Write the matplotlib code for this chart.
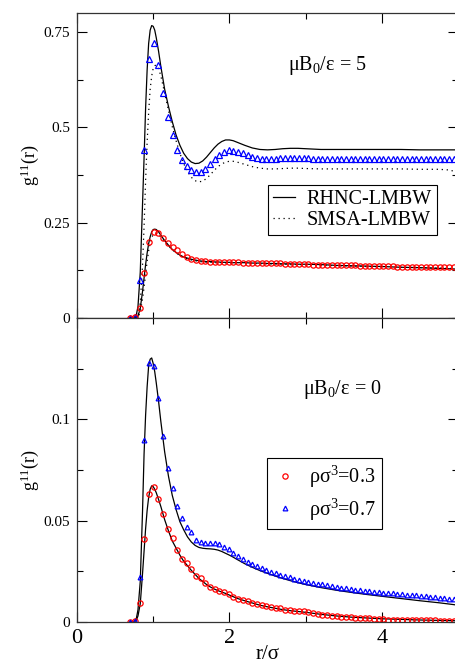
import numpy as np
import matplotlib
matplotlib.use('Agg')
import matplotlib.pyplot as plt
from matplotlib.ticker import MultipleLocator, FixedLocator, FuncFormatter

plt.rcParams['font.family'] = 'Liberation Serif'
plt.rcParams['mathtext.fontset'] = 'custom'
plt.rcParams['mathtext.rm'] = 'Liberation Serif'
plt.rcParams['mathtext.it'] = 'Liberation Serif'

# simulation points (same r grid for every MD series)
r_md = np.round(0.70 + 0.0615 * np.arange(70), 4)

# mu B0 / eps = 5
md7_b5 = [0.0, 0.003, 0.10, 0.44, 0.68, 0.72, 0.664, 0.589, 0.527, 0.479,
          0.441, 0.415, 0.398, 0.387, 0.382, 0.383, 0.392, 0.404, 0.417, 0.428,
          0.435, 0.440, 0.438, 0.436, 0.432, 0.427, 0.423, 0.420, 0.418, 0.417,
          0.417, 0.418, 0.419, 0.420, 0.420, 0.420, 0.420, 0.419, 0.419, 0.418,
          0.418, 0.418, 0.418, 0.418, 0.418, 0.418, 0.418, 0.418, 0.418, 0.418,
          0.418, 0.418, 0.417, 0.417, 0.417, 0.417, 0.417, 0.417, 0.417, 0.417,
          0.417, 0.417, 0.416, 0.416, 0.416, 0.416, 0.416, 0.416, 0.416, 0.416]
md3_b5 = [0.0, 0.002, 0.025, 0.119, 0.199, 0.225, 0.223, 0.209, 0.196, 0.186,
          0.177, 0.168, 0.161, 0.156, 0.153, 0.150, 0.149, 0.148, 0.148, 0.147,
          0.147, 0.146, 0.146, 0.146, 0.145, 0.145, 0.145, 0.144, 0.144, 0.144,
          0.143, 0.143, 0.143, 0.142, 0.142, 0.142, 0.141, 0.141, 0.141, 0.140,
          0.140, 0.140, 0.140, 0.139, 0.139, 0.139, 0.138, 0.138, 0.138, 0.137,
          0.137, 0.137, 0.137, 0.136, 0.136, 0.136, 0.136, 0.135, 0.135, 0.135,
          0.135, 0.135, 0.134, 0.134, 0.134, 0.134, 0.134, 0.134, 0.133, 0.133]

# mu B0 / eps = 0
md7_b0 = [0.0, 0.0005, 0.022, 0.0897, 0.128, 0.1265, 0.1107, 0.092, 0.076, 0.0663,
          0.0573, 0.0514, 0.047, 0.0442, 0.0404, 0.0393, 0.0388, 0.0388, 0.0388, 0.0383,
          0.0371, 0.0358, 0.0343, 0.0325, 0.0310, 0.0298, 0.0287, 0.0277, 0.0266, 0.0257,
          0.0248, 0.0240, 0.0232, 0.0225, 0.0220, 0.0214, 0.0209, 0.0203, 0.0198, 0.0194,
          0.0190, 0.0186, 0.0182, 0.0178, 0.0174, 0.0170, 0.0166, 0.0163, 0.0160, 0.0157,
          0.0154, 0.0151, 0.0149, 0.0147, 0.0145, 0.0143, 0.0141, 0.0139, 0.0137, 0.0135,
          0.0133, 0.0131, 0.0129, 0.0127, 0.0125, 0.0122, 0.0120, 0.0118, 0.0116, 0.0114]
md3_b0 = [0.0, 0.0003, 0.0092, 0.0412, 0.063, 0.0665, 0.0606, 0.0535, 0.0457, 0.0417,
          0.0355, 0.0311, 0.0289, 0.026, 0.0227, 0.0215, 0.0193, 0.0175, 0.0161, 0.0154,
          0.0149, 0.0136, 0.0125, 0.0115, 0.0108, 0.0103, 0.0096, 0.0088, 0.0083, 0.0079,
          0.0074, 0.0070, 0.0067, 0.0061, 0.0058, 0.0056, 0.0054, 0.0052, 0.0049, 0.0046,
          0.0040, 0.0035, 0.0034, 0.0032, 0.0029, 0.0027, 0.0024, 0.0023, 0.0021, 0.0020,
          0.0018, 0.0018, 0.0016, 0.0015, 0.0013, 0.0012, 0.0012, 0.0011, 0.0011, 0.0010,
          0.0010, 0.0009, 0.0009, 0.0008, 0.0008, 0.0008, 0.0007, 0.0007, 0.0007, 0.0006]

# integral equation results
r_th = [0.70, 0.75, 0.78, 0.80, 0.83, 0.86, 0.88, 0.90, 0.92, 0.94,
        0.96, 0.98, 1.00, 1.02, 1.04, 1.07, 1.10, 1.15, 1.20, 1.25,
        1.30, 1.35, 1.40, 1.45, 1.50, 1.55, 1.60, 1.65, 1.70, 1.75,
        1.80, 1.85, 1.90, 1.95, 2.00, 2.05, 2.10, 2.20, 2.30, 2.40,
        2.50, 2.60, 2.70, 2.80, 2.90, 3.00, 3.20, 3.40, 3.60, 3.80,
        4.00, 4.25, 4.50, 4.75, 4.90, 5.00]

rhnc7_b5 = [0.0, 0.0, 0.01, 0.03, 0.12, 0.30, 0.42, 0.55, 0.65, 0.72,
            0.755, 0.767, 0.765, 0.755, 0.735, 0.70, 0.66, 0.60, 0.555, 0.515,
            0.48, 0.453, 0.432, 0.418, 0.409, 0.405, 0.406, 0.412, 0.422, 0.434,
            0.446, 0.456, 0.463, 0.467, 0.467, 0.465, 0.461, 0.453, 0.446, 0.442,
            0.441, 0.442, 0.444, 0.445, 0.445, 0.444, 0.442, 0.442, 0.442, 0.442,
            0.442, 0.442, 0.441, 0.441, 0.441, 0.441]
smsa7_b5 = [0.0, 0.0, 0.0, 0.005, 0.04, 0.14, 0.24, 0.36, 0.46, 0.54,
            0.60, 0.635, 0.655, 0.662, 0.663, 0.655, 0.635, 0.59, 0.545, 0.502,
            0.465, 0.432, 0.405, 0.384, 0.369, 0.360, 0.357, 0.359, 0.366, 0.376,
            0.387, 0.397, 0.404, 0.409, 0.411, 0.411, 0.409, 0.403, 0.397, 0.393,
            0.391, 0.391, 0.392, 0.393, 0.393, 0.392, 0.391, 0.391, 0.391, 0.391,
            0.391, 0.391, 0.390, 0.390, 0.388, 0.380]
rhnc3_b5 = [0.0, 0.0, 0.0, 0.005, 0.025, 0.07, 0.105, 0.14, 0.17, 0.195,
            0.213, 0.226, 0.232, 0.233, 0.232, 0.226, 0.217, 0.203, 0.191, 0.180,
            0.172, 0.165, 0.160, 0.157, 0.154, 0.152, 0.150, 0.149, 0.148, 0.148,
            0.147, 0.147, 0.146, 0.146, 0.146, 0.145, 0.145, 0.145, 0.144, 0.144,
            0.143, 0.143, 0.142, 0.142, 0.141, 0.141, 0.140, 0.138, 0.137, 0.136,
            0.135, 0.133, 0.132, 0.130, 0.129, 0.128]
smsa3_b5 = [0.0, 0.0, 0.0, 0.002, 0.015, 0.05, 0.08, 0.115, 0.148, 0.176,
            0.197, 0.211, 0.219, 0.222, 0.222, 0.219, 0.212, 0.200, 0.189, 0.179,
            0.171, 0.164, 0.159, 0.155, 0.152, 0.150, 0.148, 0.147, 0.146, 0.146,
            0.145, 0.145, 0.145, 0.144, 0.144, 0.144, 0.144, 0.143, 0.143, 0.142,
            0.142, 0.141, 0.141, 0.140, 0.140, 0.139, 0.138, 0.137, 0.136, 0.135,
            0.134, 0.133, 0.132, 0.131, 0.130, 0.130]
rhnc7_b0 = [0.0, 0.0, 0.002, 0.006, 0.020, 0.055, 0.083, 0.102, 0.116, 0.1265,
            0.1297, 0.1303, 0.1275, 0.1235, 0.118, 0.109, 0.099, 0.084, 0.072, 0.0625,
            0.0555, 0.0495, 0.0455, 0.042, 0.0395, 0.0378, 0.0368, 0.0364, 0.0362, 0.0361,
            0.0359, 0.0355, 0.0348, 0.0339, 0.0330, 0.0320, 0.0309, 0.0288, 0.0270, 0.0254,
            0.0240, 0.0227, 0.0215, 0.0204, 0.0194, 0.0185, 0.0170, 0.0157, 0.0146, 0.0136,
            0.0127, 0.0116, 0.0105, 0.0095, 0.0088, 0.0083]
rhnc3_b0 = [0.0, 0.0, 0.001, 0.003, 0.009, 0.024, 0.035, 0.046, 0.055, 0.0615,
            0.0655, 0.0672, 0.0668, 0.0655, 0.0638, 0.0605, 0.057, 0.0505, 0.045, 0.040,
            0.0365, 0.033, 0.030, 0.0278, 0.0255, 0.0235, 0.0215, 0.0200, 0.0185, 0.0173,
            0.0163, 0.0155, 0.0148, 0.0141, 0.0133, 0.0125, 0.0117, 0.0105, 0.0094, 0.0083,
            0.0075, 0.0068, 0.0061, 0.0056, 0.0052, 0.0048, 0.0038, 0.0030, 0.0024, 0.0020,
            0.0016, 0.0013, 0.0010, 0.0008, 0.0007, 0.0006]

yticks_top = [0, 0.25, 0.5, 0.75]
yticks_bot = [0, 0.05, 0.1]

fig = plt.figure(figsize=(4.56, 6.63), dpi=100)
ax1 = fig.add_axes([0.1689, 0.5204, 0.8355, 0.4600])
ax2 = fig.add_axes([0.1689, 0.0618, 0.8355, 0.4585])

dots = (0, (1, 3))
mk = dict(linestyle='none', markerfacecolor='none', markeredgewidth=0.9)

# upper panel: field on
ax1.plot(r_th, rhnc7_b5, color='black', lw=0.9, label='RHNC-LMBW')
ax1.plot(r_th, smsa7_b5, color='black', lw=0.9, ls=dots, label='SMSA-LMBW')
ax1.plot(r_th, rhnc3_b5, color='black', lw=0.9)
ax1.plot(r_th, smsa3_b5, color='black', lw=0.9, ls=dots)
ax1.plot(r_md, md7_b5, marker='^', markersize=4, markeredgecolor='blue', **mk)
ax1.plot(r_md, md3_b5, marker='o', markersize=3.8, markeredgecolor='red', **mk)

# lower panel: no field
ax2.plot(r_th, rhnc7_b0, color='black', lw=0.9)
ax2.plot(r_th, rhnc3_b0, color='black', lw=0.9)
ax2.plot(r_md, md3_b0, marker='o', markersize=3.8, markeredgecolor='red', **mk,
         label=r'ρσ$^{3}$=0.3')
ax2.plot(r_md, md7_b0, marker='^', markersize=3.4, markeredgecolor='blue', **mk,
         label=r'ρσ$^{3}$=0.7')

fmt = FuncFormatter(lambda v, pos: '%g' % v)
for ax in (ax1, ax2):
    ax.set_xlim(0, 5)
    ax.xaxis.set_major_locator(MultipleLocator(2))
    ax.xaxis.set_minor_locator(MultipleLocator(1))
    ax.tick_params(which='both', direction='in', top=True, right=True)
    ax.tick_params(which='major', length=7.2, width=0.8)
    ax.tick_params(which='minor', length=4.0, width=0.8)
    ax.tick_params(axis='y', labelsize=11, pad=5)
    ax.tick_params(axis='x', labelsize=16, pad=5)
    ax.yaxis.set_major_formatter(fmt)
    for s in ax.spines.values():
        s.set_linewidth(0.9)
        s.set_color('#333333')
    ax.set_ylabel(r'g$^{11}$(r)', fontsize=13)
    ax.yaxis.set_label_coords(-0.095, 0.5)

ax1.set_ylim(0, 0.8)
ax1.yaxis.set_major_locator(FixedLocator(yticks_top))
ax1.yaxis.set_minor_locator(MultipleLocator(0.125))
ax1.tick_params(axis='x', labelbottom=False)

ax2.set_ylim(0, 0.15)
ax2.yaxis.set_major_locator(FixedLocator(yticks_bot))
ax2.yaxis.set_minor_locator(MultipleLocator(0.025))
ax2.set_xlabel('r/σ', fontsize=15)
ax2.xaxis.set_label_coords(0.5, -0.075)

ax1.text(2.77, 0.651, r'μB$_{0}$/ε = 5', fontsize=14.5, va='baseline')
ax2.text(2.97, 0.1127, r'μB$_{0}$/ε = 0', fontsize=14.5, va='baseline')

leg1 = ax1.legend(loc='upper left', bbox_to_anchor=(0.50, 0.436), fontsize=14.5,
                  handlelength=1.1, handletextpad=0.6, labelspacing=0.1,
                  borderpad=0.25, borderaxespad=0, fancybox=False, framealpha=1)
leg1.get_frame().set_edgecolor('black')
leg1.get_frame().set_linewidth(0.8)

leg2 = ax2.legend(loc='upper left', bbox_to_anchor=(0.499, 0.539), fontsize=14.5,
                  numpoints=1, handlelength=1.2, handletextpad=0.6, labelspacing=0.3,
                  borderpad=0.3, borderaxespad=0, fancybox=False, framealpha=1)
leg2.get_frame().set_edgecolor('black')
leg2.get_frame().set_linewidth(0.8)

fig.savefig('out.png', dpi=100)
